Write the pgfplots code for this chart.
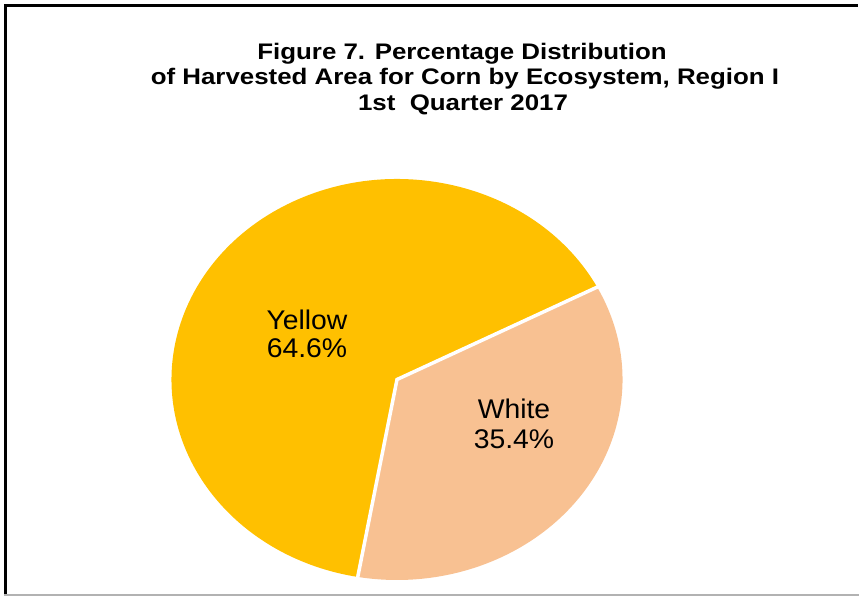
\documentclass[border=0pt]{standalone}
\usepackage{pgfplots}
\pgfplotsset{compat=1.18}
\usetikzlibrary{calc}
\usepackage{fontspec}
\setmainfont{Liberation Sans}
\newfontfamily\titlefont[FakeStretch=1.15]{Liberation Sans}
\newfontfamily\labelfont[FakeStretch=1.05]{Liberation Sans}
\definecolor{cornyellow}{HTML}{FFC000}
\definecolor{cornwhite}{HTML}{F8C192}
\begin{document}
\begin{tikzpicture}
\begin{axis}[width=859pt,height=596pt,scale only axis,
  xmin=0,xmax=859,ymin=0,ymax=596,y dir=reverse,hide axis,clip=false]
% frame
\draw[black, line width=3pt] (axis cs:5.5,596) -- (axis cs:5.5,6) -- (axis cs:858,6);
\draw[black!30, line width=1.5pt] (axis cs:4,594.8) -- (axis cs:859,594.8);
% pie: Yellow 64.6, White 35.4
\pgfmathsetmacro{\startang}{27.4}
\pgfmathsetmacro{\whiteend}{\startang-35.4*3.6}
\pgfmathsetmacro{\yellowend}{\startang+64.6*3.6}
\fill[cornyellow] (axis cs:397,379.5) -- ++(\startang:225.5pt and 200.5pt)
  arc[start angle=\startang,end angle=\yellowend,x radius=225.5pt,y radius=200.5pt] -- cycle;
\fill[cornwhite] (axis cs:397,379.5) -- ++(\startang:225.5pt and 200.5pt)
  arc[start angle=\startang,end angle=\whiteend,x radius=225.5pt,y radius=200.5pt] -- cycle;
\draw[white, line width=3.5pt, line join=miter]
  ($(axis cs:397,379.5)+(\startang:228pt and 203pt)$) -- (axis cs:397,379.5)
  -- ($(axis cs:397,379.5)+(\whiteend:228pt and 203pt)$);
% title
\node[anchor=base, font=\titlefont\bfseries\fontsize{22.5}{26}\selectfont] at (axis cs:462,59.3) {Figure 7. Percentage Distribution};
\node[anchor=base, font=\titlefont\bfseries\fontsize{22.5}{26}\selectfont] at (axis cs:465,84.3) {of Harvested Area for Corn by Ecosystem, Region I};
\node[anchor=base, font=\titlefont\bfseries\fontsize{22.5}{26}\selectfont] at (axis cs:463,110.7) {1st\ \ Quarter 2017};
% labels
\node[anchor=base, font=\labelfont\fontsize{27}{28}\selectfont] at (axis cs:307,329.3) {Yellow};
\node[anchor=base, font=\labelfont\fontsize{27}{28}\selectfont] at (axis cs:307,357.3) {64.6\%};
\node[anchor=base, font=\labelfont\fontsize{27}{28}\selectfont] at (axis cs:514,418) {White};
\node[anchor=base, font=\labelfont\fontsize{27}{28}\selectfont] at (axis cs:514,448) {35.4\%};
\end{axis}
\pgfresetboundingbox
\path (current axis.south west) rectangle (current axis.north east);
\end{tikzpicture}
\end{document}
